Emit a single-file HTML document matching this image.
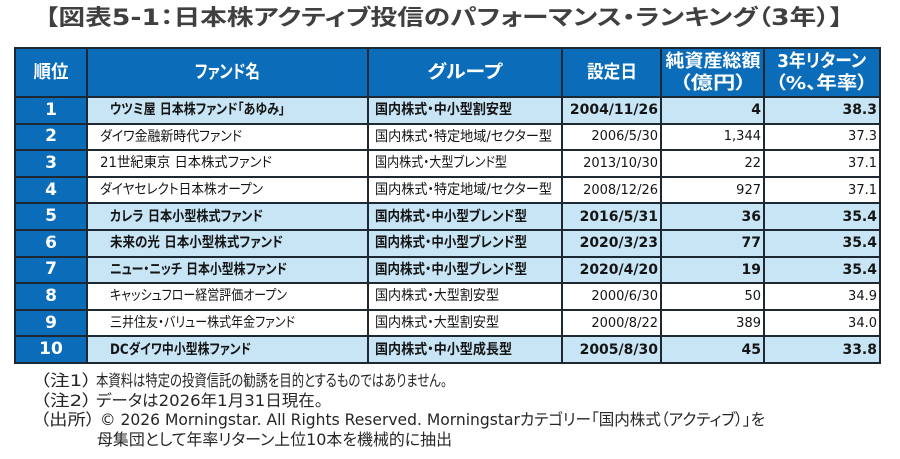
<!DOCTYPE html>
<html><head><meta charset="utf-8">
<style>
*{margin:0;padding:0;box-sizing:border-box}
html,body{width:900px;height:459px;background:#fff;overflow:hidden}
body{position:relative;font-family:"DejaVu Sans","Noto Sans CJK JP",sans-serif;color:#151515;font-feature-settings:"palt"}
.f{display:inline-block;white-space:nowrap}
.ol{transform-origin:0 50%}
.oc{transform-origin:50% 50%}
#title{position:absolute;left:45px;top:4px;height:30px;line-height:30px;font-size:22px;font-weight:bold;color:#404040;white-space:nowrap}
#grid{position:absolute;left:14px;top:47px;width:867px;height:317px;background:#1d2833;padding:2px;display:grid;gap:2px;grid-template-columns:70px 279px 192px 97px 101px 114px;grid-template-rows:47px repeat(10,24.6px)}
#grid>div{display:flex;align-items:center;white-space:nowrap;line-height:1;font-size:14px}
#grid>div.h{background:#0b6db9;color:#fff;font-weight:bold;font-size:18px;justify-content:center;text-align:center}
#grid>div.h2{flex-direction:column}
.h2 span{line-height:22px}
#grid>div.r{background:#0b6db9;color:#fff;font-weight:bold;font-size:17px;justify-content:center}
.w{background:#fff}
.b{background:#c7e5f5;font-weight:bold}
.fn{padding-left:22px}
.fn2{padding-left:12px}
.g{padding-left:6px}
#grid>div.num{justify-content:flex-end;padding-right:2px}
#grid>div.w.num{font-size:13px}
.note{position:absolute;height:20px;line-height:20px;font-size:16px;color:#262626;white-space:nowrap}
</style></head>
<body>
<div id="title"><span class="f ol" style="--w:798">【図表5-1：日本株アクティブ投信のパフォーマンス・ランキング（3年）】</span></div>

<div id="grid">
<div class="h"><span class="f oc" style="--w:35">順位</span></div>
<div class="h"><span class="f oc" style="--w:65">ファンド名</span></div>
<div class="h"><span class="f oc" style="--w:75">グループ</span></div>
<div class="h"><span class="f oc" style="--w:50">設定日</span></div>
<div class="h h2"><span class="f oc" style="--w:95">純資産総額</span><span class="f oc" style="--w:67">（億円）</span></div>
<div class="h h2"><span class="f oc" style="--w:89">3年リターン</span><span class="f oc" style="--w:92">（%、年率）</span></div>

<div class="r">1</div>
<div class="b fn"><span class="f ol" style="--w:175">ウツミ屋 日本株ファンド「あゆみ」</span></div>
<div class="b g"><span class="f ol" style="--w:137">国内株式・中小型割安型</span></div>
<div class="b num">2004/11/26</div>
<div class="b num">4</div>
<div class="b num">38.3</div>

<div class="r">2</div>
<div class="w fn2"><span class="f ol" style="--w:142">ダイワ金融新時代ファンド</span></div>
<div class="w g"><span class="f ol" style="--w:177">国内株式・特定地域/セクター型</span></div>
<div class="w num">2006/5/30</div>
<div class="w num">1,344</div>
<div class="w num">37.3</div>

<div class="r">3</div>
<div class="w fn2"><span class="f ol" style="--w:172">21世紀東京 日本株式ファンド</span></div>
<div class="w g"><span class="f ol" style="--w:132">国内株式・大型ブレンド型</span></div>
<div class="w num">2013/10/30</div>
<div class="w num">22</div>
<div class="w num">37.1</div>

<div class="r">4</div>
<div class="w fn2"><span class="f ol" style="--w:163">ダイヤセレクト日本株オープン</span></div>
<div class="w g"><span class="f ol" style="--w:177">国内株式・特定地域/セクター型</span></div>
<div class="w num">2008/12/26</div>
<div class="w num">927</div>
<div class="w num">37.1</div>

<div class="r">5</div>
<div class="b fn"><span class="f ol" style="--w:153">カレラ 日本小型株式ファンド</span></div>
<div class="b g"><span class="f ol" style="--w:152">国内株式・中小型ブレンド型</span></div>
<div class="b num">2016/5/31</div>
<div class="b num">36</div>
<div class="b num">35.4</div>

<div class="r">6</div>
<div class="b fn"><span class="f ol" style="--w:173">未来の光 日本小型株式ファンド</span></div>
<div class="b g"><span class="f ol" style="--w:152">国内株式・中小型ブレンド型</span></div>
<div class="b num">2020/3/23</div>
<div class="b num">77</div>
<div class="b num">35.4</div>

<div class="r">7</div>
<div class="b fn"><span class="f ol" style="--w:177">ニュー・ニッチ 日本小型株ファンド</span></div>
<div class="b g"><span class="f ol" style="--w:152">国内株式・中小型ブレンド型</span></div>
<div class="b num">2020/4/20</div>
<div class="b num">19</div>
<div class="b num">35.4</div>

<div class="r">8</div>
<div class="w fn"><span class="f ol" style="--w:177">キャッシュフロー経営評価オープン</span></div>
<div class="w g"><span class="f ol" style="--w:124">国内株式・大型割安型</span></div>
<div class="w num">2000/6/30</div>
<div class="w num">50</div>
<div class="w num">34.9</div>

<div class="r">9</div>
<div class="w fn"><span class="f ol" style="--w:185">三井住友・バリュー株式年金ファンド</span></div>
<div class="w g"><span class="f ol" style="--w:124">国内株式・大型割安型</span></div>
<div class="w num">2000/8/22</div>
<div class="w num">389</div>
<div class="w num">34.0</div>

<div class="r">10</div>
<div class="b fn"><span class="f ol" style="--w:141">DCダイワ中小型株ファンド</span></div>
<div class="b g"><span class="f ol" style="--w:137">国内株式・中小型成長型</span></div>
<div class="b num">2005/8/30</div>
<div class="b num">45</div>
<div class="b num">33.8</div>
</div>

<div class="note" style="left:40px;top:371px"><span class="f ol" style="--w:52">（注1）</span></div>
<div class="note" style="left:96px;top:371px"><span class="f ol" style="--w:351">本資料は特定の投資信託の勧誘を目的とするものではありません。</span></div>
<div class="note" style="left:40px;top:391px"><span class="f ol" style="--w:52">（注2）</span></div>
<div class="note" style="left:96px;top:391px"><span class="f ol" style="--w:227">データは2026年1月31日現在。</span></div>
<div class="note" style="left:40px;top:410px"><span class="f ol" style="--w:55">（出所）</span></div>
<div class="note" style="left:100px;top:410px"><span class="f ol" style="--w:665">© 2026 Morningstar. All Rights Reserved. Morningstarカテゴリー「国内株式（アクティブ）」を</span></div>
<div class="note" style="left:97px;top:430px"><span class="f ol" style="--w:355">母集団として年率リターン上位10本を機械的に抽出</span></div>

<script>
function fit(){
  var els=document.querySelectorAll('.f');
  for(var i=0;i<els.length;i++){
    var e=els[i];
    var w=parseFloat(getComputedStyle(e).getPropertyValue('--w'));
    if(!w)continue;
    e.style.transform='none';
    var n=e.getBoundingClientRect().width;
    if(n>0)e.style.transform='scaleX('+(w/n)+')';
  }
}
fit();
if(document.fonts&&document.fonts.ready){document.fonts.ready.then(fit);}
window.addEventListener('load',fit);
</script>
</body></html>
